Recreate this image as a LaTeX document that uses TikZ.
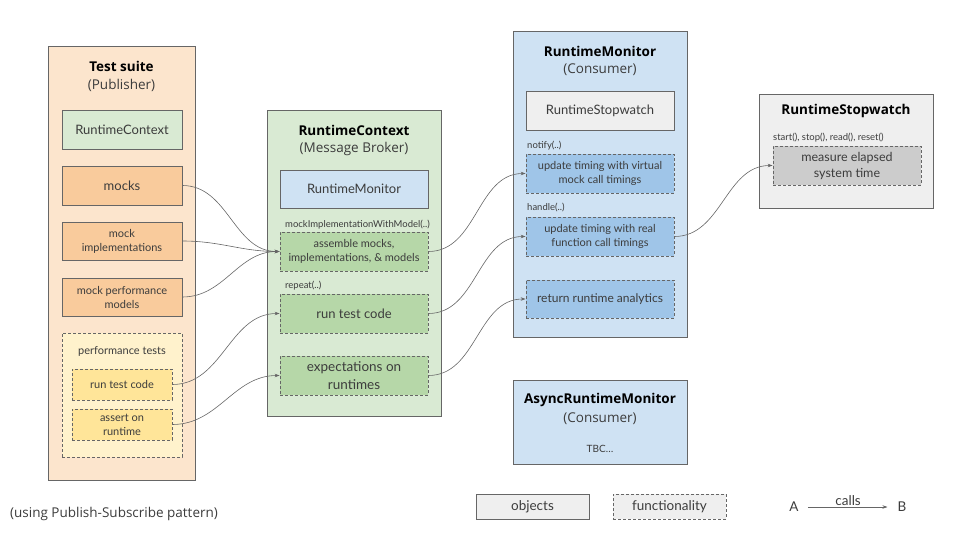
\documentclass[tikz,border=0pt]{standalone}
\usepackage{fontspec}
\setmainfont{Lato}
\newfontfamily\titleFont{Open Sans}
\usepackage{xcolor}
\definecolor{edgeGray}{HTML}{666666}
\definecolor{textDark}{HTML}{3C3C3C}
\definecolor{suiteBg}{HTML}{FCE5CD}
\definecolor{suiteFill}{HTML}{F9CB9C}
\definecolor{testsBg}{HTML}{FFF2CC}
\definecolor{testsFill}{HTML}{FFE599}
\definecolor{brokerBg}{HTML}{D9EAD3}
\definecolor{brokerFill}{HTML}{B6D7A8}
\definecolor{monitorBg}{HTML}{CFE2F3}
\definecolor{monitorFill}{HTML}{9FC5E8}
\definecolor{watchBg}{HTML}{EFEFEF}
\definecolor{watchFill}{HTML}{CCCCCC}
\usepackage{tikz}
\usetikzlibrary{positioning,arrows.meta}
\tikzset{%
  groupBox/.style={%
    rectangle,
    draw=edgeGray,
    line width=0.8pt,
    inner sep=0pt,
    anchor=north west
  },
  objectBox/.style={%
    rectangle,
    draw=edgeGray,
    line width=0.8pt,
    inner sep=1pt,
    minimum width=120pt,
    minimum height=39pt,
    align=center,
    text=textDark,
    font=\fontsize{13}{16}\selectfont
  },
  funcBox/.style={%
    objectBox,
    dash pattern=on 3pt off 2pt
  },
  smallFunc/.style={%
    funcBox,
    font=\fontsize{11}{14}\selectfont
  },
  titleText/.style={%
    inner sep=0pt,
    font=\titleFont\bfseries\fontsize{13.5}{16}\selectfont
  },
  subText/.style={%
    inner sep=0pt,
    text=textDark,
    font=\titleFont\fontsize{13.5}{16}\selectfont
  },
  smallLabel/.style={%
    inner sep=0pt,
    anchor=west,
    text=textDark,
    font=\fontsize{9.5}{11}\selectfont
  },
  callArrow/.style={%
    -{Stealth[length=5pt,width=3.5pt]},
    line width=0.6pt,
    color=edgeGray
  }
}

\begin{document}
\begin{tikzpicture}[x=1pt,y=-1pt]
\useasboundingbox (0,0) rectangle (960,540);

\node[groupBox, fill=suiteBg, minimum width=147pt, minimum height=434pt] (suite) at (48,46) {};
\node[titleText] (suiteTitle) at (121.5,66) {Test suite};
\node[subText] (suiteSub) at (121.5,85) {(Publisher)};
\node[objectBox, fill=brokerBg] (suiteContext) at (122,129.5) {RuntimeContext};
\node[objectBox, fill=suiteFill] (mocks) at (122,185.5) {mocks};
\node[objectBox, fill=suiteFill, minimum height=38pt, font=\fontsize{11}{14}\selectfont] (mockImpl) at (122,241) {mock\\implementations};
\node[objectBox, fill=suiteFill, minimum height=38pt, font=\fontsize{11}{14}\selectfont] (mockPerf) at (122,297) {mock performance\\models};
\node[funcBox, fill=testsBg, minimum height=124pt] (perfTests) at (122,395) {};
\node[inner sep=0pt, text=textDark, font=\fontsize{11}{13}\selectfont] (perfTitle) at (122,351) {performance tests};
\node[funcBox, fill=testsFill, minimum width=100pt, minimum height=31pt, font=\fontsize{11}{14}\selectfont] (suiteRun) at (122,384.5) {run test code};
\node[funcBox, fill=testsFill, minimum width=100pt, minimum height=31pt, font=\fontsize{11}{14}\selectfont] (suiteAssert) at (122,424.5) {assert on\\runtime};

\node[groupBox, fill=brokerBg, minimum width=174pt, minimum height=306pt] (broker) at (267,110) {};
\node[titleText] (brokerTitle) at (354,130) {RuntimeContext};
\node[subText] (brokerSub) at (354,149) {(Message Broker)};
\node[objectBox, fill=monitorBg, minimum width=148pt, minimum height=38pt] (brokerMonitor) at (354,189) {RuntimeMonitor};
\node[smallLabel] (mockLabel) at (285,225) {mockImplementationWithModel(..)};
\node[smallFunc, fill=brokerFill, minimum width=148pt] (assemble) at (354,251.5) {assemble mocks,\\implementations, \& models};
\node[smallLabel] (repeatLabel) at (285,286) {repeat(..)};
\node[funcBox, fill=brokerFill, minimum width=148pt] (brokerRun) at (354,313.5) {run test code};
\node[funcBox, fill=brokerFill, minimum width=148pt, font=\fontsize{13.5}{18}\selectfont] (expect) at (354,375.5) {expectations on\\runtimes};

\node[groupBox, fill=monitorBg, minimum width=174pt, minimum height=306pt] (monitor) at (513,31) {};
\node[titleText] (monitorTitle) at (600,51) {RuntimeMonitor};
\node[subText] (monitorSub) at (600,70) {(Consumer)};
\node[objectBox, fill=watchBg, minimum width=148pt] (monitorWatch) at (600,110.5) {RuntimeStopwatch};
\node[smallLabel] (notifyLabel) at (527,146) {notify(..)};
\node[smallFunc, fill=monitorFill, minimum width=148pt] (virtualTiming) at (600,173.5) {update timing with virtual\\mock call timings};
\node[smallLabel] (handleLabel) at (527,208) {handle(..)};
\node[smallFunc, fill=monitorFill, minimum width=148pt] (realTiming) at (600,236.5) {update timing with real\\function call timings};
\node[funcBox, fill=monitorFill, minimum width=148pt, minimum height=38pt, font=\fontsize{12}{14}\selectfont] (analytics) at (600,299) {return runtime analytics};

\node[groupBox, fill=watchBg, minimum width=174pt, minimum height=114pt] (stopwatch) at (759,94) {};
\node[titleText] (watchTitle) at (846,111) {RuntimeStopwatch};
\node[smallLabel] (watchLabel) at (773,138) {start(), stop(), read(), reset()};
\node[funcBox, fill=watchFill, minimum width=148pt, font=\fontsize{12.5}{16}\selectfont] (measure) at (847,165.5) {measure elapsed\\system time};

\node[groupBox, fill=monitorBg, minimum width=174pt, minimum height=84pt] (asyncMonitor) at (513,380) {};
\node[titleText] (asyncTitle) at (600,400) {AsyncRuntimeMonitor};
\node[subText] (asyncSub) at (600,419) {(Consumer)};
\node[inner sep=0pt, text=textDark, font=\fontsize{10}{12}\selectfont] (asyncTbc) at (600,449) {TBC\dots};

\draw[callArrow] (mocks.east) to[out=0,in=180] (assemble.west);
\draw[callArrow] (mockImpl.east) to[out=0,in=180] (assemble.west);
\draw[callArrow] (mockPerf.east) to[out=0,in=180] (assemble.west);
\draw[callArrow] (suiteRun.east) to[out=0,in=180] (brokerRun.west);
\draw[callArrow] (suiteAssert.east) to[out=0,in=180] (expect.west);
\draw[callArrow] (assemble.east) to[out=0,in=180] (virtualTiming.west);
\draw[callArrow] (brokerRun.east) to[out=0,in=180] (realTiming.west);
\draw[callArrow] (expect.east) to[out=0,in=180] (analytics.west);
\draw[callArrow] (realTiming.east) to[out=0,in=180] (measure.west);

\node[objectBox, fill=watchBg, minimum width=113pt, minimum height=25pt, font=\fontsize{13.5}{16}\selectfont] (legendObjects) at (532.5,506.5) {objects};
\node[funcBox, fill=watchBg, minimum width=113pt, minimum height=25pt, font=\fontsize{13.5}{16}\selectfont] (legendFunc) at (669.5,506.5) {functionality};
\node[inner sep=0pt, text=textDark, font=\fontsize{13.5}{16}\selectfont] (legendA) at (794,507) {A};
\node[inner sep=0pt, text=textDark, font=\fontsize{13.5}{16}\selectfont] (legendB) at (902,507) {B};
\draw[callArrow, shorten <=9pt, shorten >=10pt] (legendA) -- node[above, inner sep=1pt, text=textDark, font=\fontsize{13.5}{16}\selectfont] (callsLabel) {calls} (legendB);
\node[subText, font=\titleFont\fontsize{13.5}{16}\selectfont] (patternNote) at (114,514) {(using Publish-Subscribe pattern)};
\end{tikzpicture}
\end{document}
